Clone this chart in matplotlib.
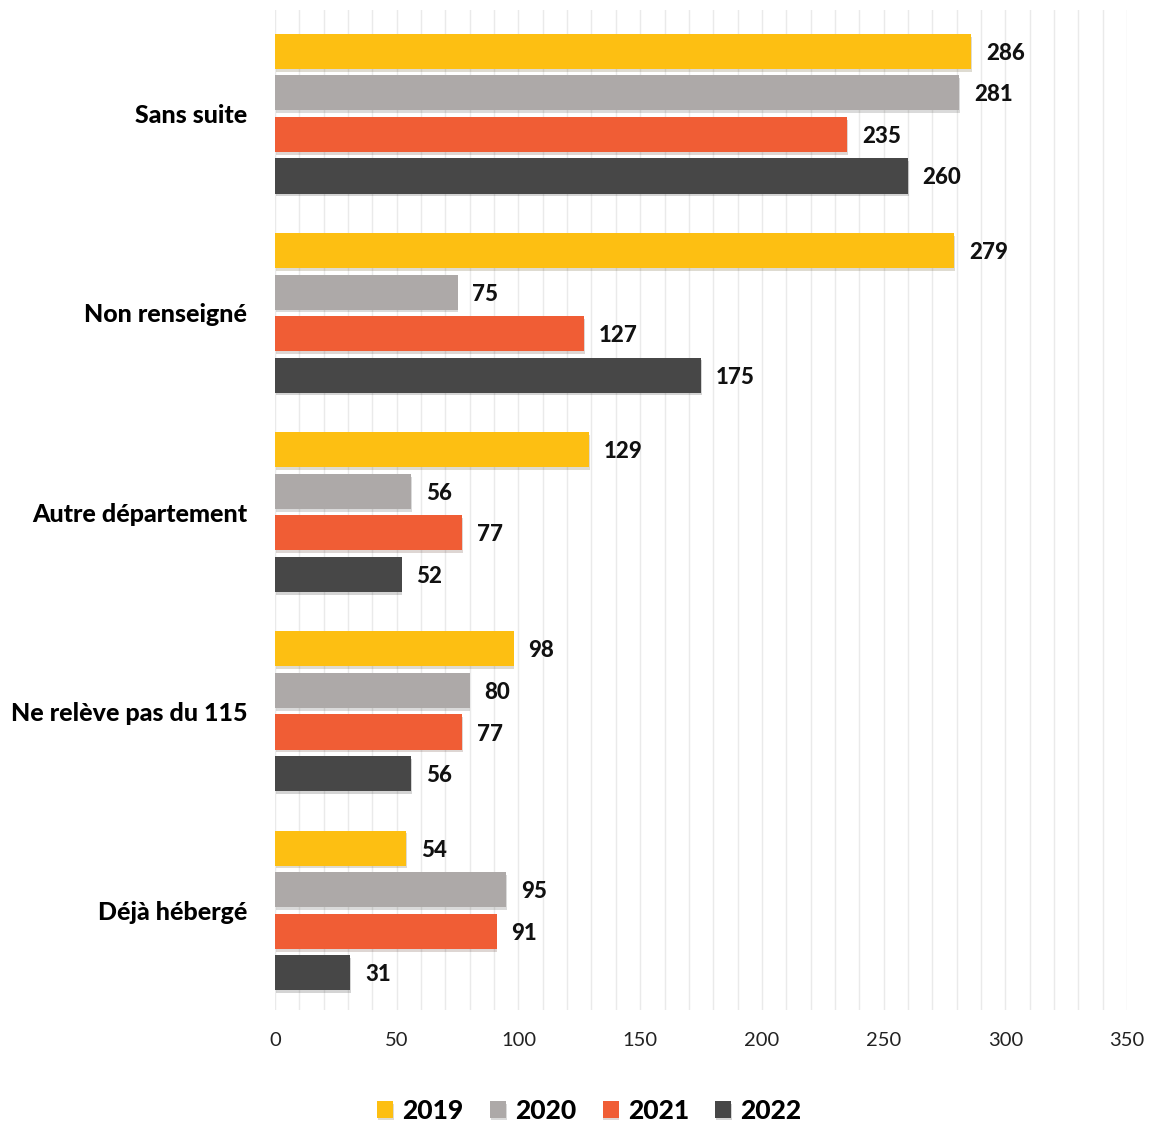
import matplotlib
matplotlib.use("Agg")
import matplotlib.pyplot as plt
import numpy as np
from matplotlib.ticker import MultipleLocator
import matplotlib.patheffects as pe

categories = ["Sans suite", "Non renseigné", "Autre département", "Ne relève pas du 115", "Déjà hébergé"]
years = ["2019", "2020", "2021", "2022"]
v2019 = [286, 279, 129, 98, 54]
v2020 = [281, 75, 56, 80, 95]
v2021 = [235, 127, 77, 77, 91]
v2022 = [260, 175, 52, 56, 31]
series = [v2019, v2020, v2021, v2022]
colors = ["#FDBF12", "#ADA9A8", "#F05D35", "#474747"]

plt.rcParams['font.family'] = ['Lato', 'DejaVu Sans']

fig = plt.figure(figsize=(11.49, 11.24), dpi=100)
ax = fig.add_axes([0.2393, 0.1014, 0.7417, 0.8896])

step = 0.2085
height = 0.176
y = np.arange(len(categories))
for i, (vals, c, yr) in enumerate(zip(series, colors, years)):
    pos = y + (i - 1.5) * step
    ax.barh(pos, vals, height=height, color=c, label=yr, zorder=3,
            path_effects=[pe.SimplePatchShadow(offset=(0.5, -2), alpha=0.18), pe.Normal()])
    for p, v in zip(pos, vals):
        ax.text(v + 6, p + 0.01, str(v), va='center', ha='left', fontsize=16, fontweight='black', color='#111111')

ax.set_ylim(4.5, -0.52)
ax.set_xlim(0, 350)
ax.set_yticks(y)
ax.set_yticklabels(categories, fontsize=18, fontweight='black')
ax.xaxis.set_major_locator(MultipleLocator(50))
ax.xaxis.set_minor_locator(MultipleLocator(10))
ax.grid(axis='x', which='both', color='#EAEAEA', linewidth=1.0, zorder=0)
ax.tick_params(axis='both', which='both', length=0)
ax.tick_params(axis='x', labelsize=14.5, pad=16, labelcolor='#222222')
ax.tick_params(axis='y', pad=20)
for s in ax.spines.values():
    s.set_visible(False)

leg = fig.legend(loc='center', bbox_to_anchor=(0.513, 0.012), ncol=4, frameon=False,
                 prop={'size': 19, 'weight': 'black'}, handlelength=0.6, handleheight=0.6,
                 handletextpad=0.35, columnspacing=1.0)
fig.savefig("out.png", dpi=100)
